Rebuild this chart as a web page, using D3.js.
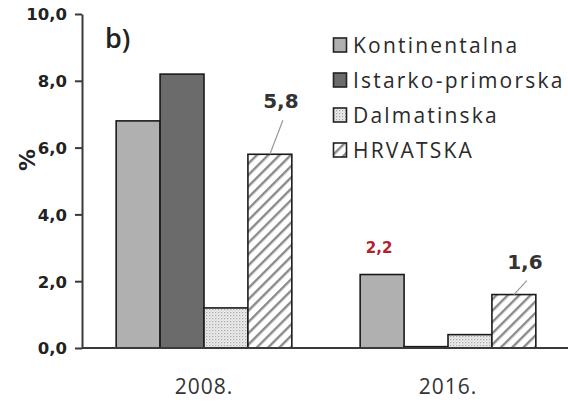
<!DOCTYPE html>
<html><head><meta charset="utf-8">
<script src="https://cdn.jsdelivr.net/npm/d3@7"></script>
<style>
html,body{margin:0;padding:0;background:#fff;}
svg{display:block;}
</style></head>
<body>
<script>
// ---- data ----
const years = ["2008.", "2016."];
const regions = ["Kontinentalna", "Istarko-primorska", "Dalmatinska", "HRVATSKA"];
const values2008 = [6.8, 8.2, 1.2, 5.8];
const values2016 = [2.2, 0.04, 0.4, 1.6];
const yTicks = [0, 2, 4, 6, 8, 10];
const panelLabel = "b)";
const yLabel = "%";
// labelled values
const valueLabels = [
  {year: 0, region: 3, text: "5,8", color: "#333", leader: true, dx: 11, dy: -46},
  {year: 1, region: 0, text: "2,2", color: "#b3202e", leader: false, dx: -3, dy: -22, small: true},
  {year: 1, region: 3, text: "1,6", color: "#333", leader: true, dx: 11, dy: -26}
];

const W = 568, H = 402;
const svg = d3.select("body").append("svg").attr("width", W).attr("height", H);

const defs = svg.append("defs");
const dots = defs.append("pattern").attr("id", "dots").attr("patternUnits", "userSpaceOnUse")
  .attr("width", 3).attr("height", 3);
dots.append("rect").attr("width", 3).attr("height", 3).attr("fill", "#f2f2f2");
dots.append("rect").attr("x", 0).attr("y", 0).attr("width", 1.2).attr("height", 1.2).attr("fill", "#9a9a9a");
dots.append("rect").attr("x", 1.5).attr("y", 1.5).attr("width", 1.2).attr("height", 1.2).attr("fill", "#c4c4c4");
const hatch = defs.append("pattern").attr("id", "hatch").attr("patternUnits", "userSpaceOnUse")
  .attr("width", 8).attr("height", 8).attr("patternTransform", "rotate(45)");
hatch.append("rect").attr("width", 8).attr("height", 8).attr("fill", "#fff");
hatch.append("rect").attr("x", 0).attr("y", 0).attr("width", 2.4).attr("height", 8).attr("fill", "#8a8a8a");

const fills = ["#b0b0b0", "#6b6b6b", "url(#dots)", "url(#hatch)"];

const x0 = d3.scaleBand().domain(years).range([82, 570]).paddingInner(0.28).paddingOuter(0.14);
const x1 = d3.scaleBand().domain(regions).range([0, x0.bandwidth()]);
const y = d3.scaleLinear().domain([0, 10]).range([348, 14]);

const data = years.map((yr, i) => ({year: yr, vals: (i === 0 ? values2008 : values2016)}));

const g = svg.append("g");
data.forEach(d => {
  const gg = g.append("g").attr("transform", `translate(${x0(d.year)},0)`);
  gg.selectAll("rect").data(regions.map((r, j) => ({r, v: d.vals[j], j})))
    .join("rect")
    .attr("x", e => x1(e.r))
    .attr("y", e => y(e.v))
    .attr("width", x1.bandwidth())
    .attr("height", e => y(0) - y(e.v))
    .attr("fill", e => fills[e.j])
    .attr("stroke", "#1a1a1a")
    .attr("stroke-width", 1.6);
});

const yAxis = d3.axisLeft(y).tickValues(yTicks).tickSize(7).tickSizeOuter(0)
  .tickFormat(d => d3.format(".1f")(d).replace(".", ","));
const ya = svg.append("g").attr("transform", "translate(82,0)").call(yAxis);
ya.select(".domain").attr("stroke", "#3a3a3a").attr("stroke-width", 2);
ya.selectAll(".tick line").attr("stroke", "#3a3a3a").attr("stroke-width", 2);
ya.selectAll(".tick text").attr("x", -15).attr("dy", "0.36em")
  .attr("font-family", "DejaVu Sans").attr("font-weight", "bold").attr("font-size", 16.5).attr("fill", "#222");

svg.append("line").attr("x1", 82).attr("x2", W).attr("y1", y(0)).attr("y2", y(0))
  .attr("stroke", "#3a3a3a").attr("stroke-width", 2);
const xAxis = d3.axisBottom(x0).tickSize(0);
const xa = svg.append("g").attr("transform", `translate(0,${y(0)})`).call(xAxis);
xa.select(".domain").remove();
xa.selectAll(".tick text").attr("y", 46).attr("dy", 0)
  .attr("font-family", "Open Sans").attr("font-size", 21).attr("letter-spacing", 1).attr("fill", "#333");

valueLabels.forEach(l => {
  const vals = l.year === 0 ? values2008 : values2016;
  const cx = x0(years[l.year]) + x1(regions[l.region]) + x1.bandwidth() / 2;
  const top = y(vals[l.region]);
  svg.append("text").attr("x", cx + l.dx).attr("y", top + l.dy)
    .attr("text-anchor", "middle")
    .attr("font-family", "DejaVu Sans").attr("font-weight", "bold")
    .attr("font-size", l.small ? 15 : 20).attr("fill", l.color).text(l.text);
  if (l.leader) {
    svg.append("line").attr("x1", cx + l.dx + 2).attr("y1", top + l.dy + 12)
      .attr("x2", cx).attr("y2", top)
      .attr("stroke", "#999").attr("stroke-width", 1.2);
  }
});

svg.append("text").attr("x", 105).attr("y", 48).attr("font-family", "Open Sans")
  .attr("font-size", 27).attr("font-weight", 600).attr("fill", "#222").text(panelLabel);

svg.append("text").attr("transform", "translate(35,160) rotate(-90)")
  .attr("text-anchor", "middle").attr("font-family", "DejaVu Sans").attr("font-weight", "bold")
  .attr("font-size", 22).attr("fill", "#222").text(yLabel);

const lg = svg.append("g").attr("transform", "translate(333,37)");
regions.forEach((r, i) => {
  const row = lg.append("g").attr("transform", `translate(0,${i * 35})`);
  row.append("rect").attr("x", 0.5).attr("y", 1).attr("width", 13).attr("height", 14)
    .attr("fill", fills[i]).attr("stroke", "#222").attr("stroke-width", 1.6);
  row.append("text").attr("x", 20).attr("y", 16).attr("font-family", "Open Sans")
    .attr("font-size", 21).attr("letter-spacing", 2.2).attr("fill", "#2a2a2a").text(r);
});
</script>
</body></html>
